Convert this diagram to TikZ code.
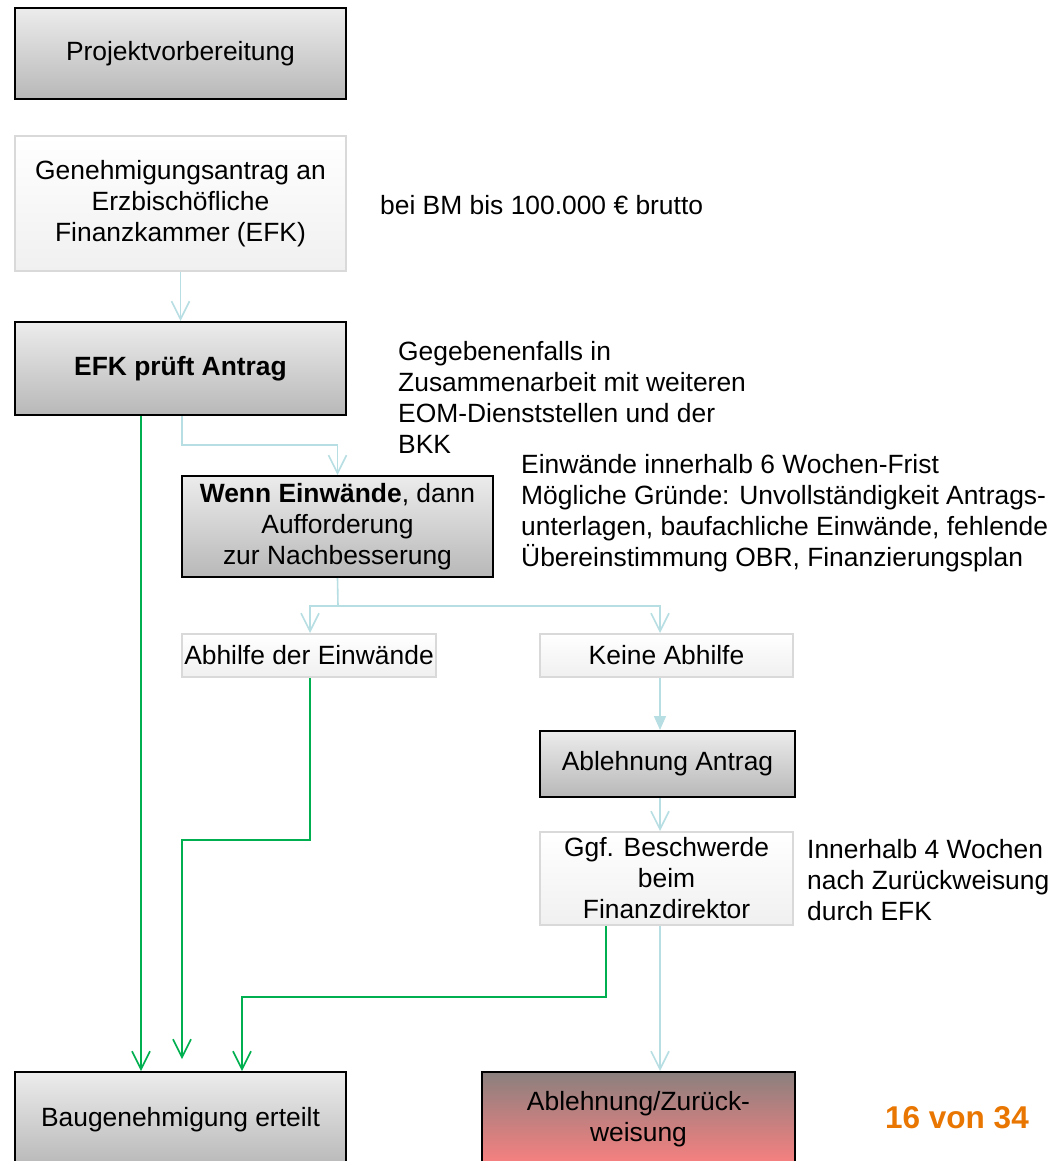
\documentclass[tikz,border=0pt]{standalone}
\usepackage{fontspec}
\setmainfont{Liberation Sans}
\usetikzlibrary{arrows.meta,calc}
\definecolor{lblue}{RGB}{183,222,226}
\definecolor{lgreen}{RGB}{0,176,80}
\definecolor{orangetxt}{RGB}{232,118,0}
\definecolor{darktop}{RGB}{236,236,236}
\definecolor{darkbot}{RGB}{184,184,184}
\definecolor{lightbot}{RGB}{240,240,240}
\definecolor{lightborder}{RGB}{217,217,217}
\definecolor{redtop}{RGB}{138,128,126}
\definecolor{redbot}{RGB}{252,128,128}
\begin{document}
\begin{tikzpicture}[x=1pt,y=-1pt,
  txt/.style={font=\fontsize{26.4}{31}\selectfont, align=center},
  darkbox/.style={txt, draw=black, line width=2pt, top color=darktop, bottom color=darkbot, inner sep=0pt},
  lightbox/.style={txt, draw=lightborder, line width=2pt, top color=white, bottom color=lightbot, inner sep=0pt},
  note/.style={font=\fontsize{26.4}{31}\selectfont, align=left, anchor=west, inner sep=0pt},
  bluearr/.style={draw=lblue, line width=1.6pt, -{Straight Barb[length=18pt,width=18pt,line width=1.6pt]}},
  bluetri/.style={draw=lblue, line width=1.6pt, -{Triangle[length=14pt,width=12pt]}},
  greenarr/.style={draw=lgreen, line width=1.6pt, -{Straight Barb[length=18pt,width=18pt,line width=1.6pt]}}
]
\useasboundingbox (0,0) rectangle (1063,1161);
\fill[white] (0,0) rectangle (1063,1161);

\node[darkbox, minimum width=331pt, minimum height=91pt] (proj) at (180.5,53.5) {Projektvorbereitung};
\node[lightbox, minimum width=331pt, minimum height=135pt] (gen) at (180.5,203.5) {Genehmigungsantrag an\\Erzbischöfliche\\Finanzkammer (EFK)};
\node[note] (bm) at (380,205) {bei BM bis 100.000 € brutto};
\node[darkbox, minimum width=331pt, minimum height=93pt] (efk) at (180.5,368.5) {\bfseries EFK prüft Antrag};
\node[note] (geg) at (398,397.5) {Gegebenenfalls in\\Zusammenarbeit mit weiteren\\EOM-Dienststellen und der\\BKK};
\node[darkbox, minimum width=311pt, minimum height=101pt] (wenn) at (337.5,526.5) {\textbf{Wenn Einwände}, dann\\Aufforderung\\zur Nachbesserung};
\node[note] (einw) at (521,513.5) {Einwände innerhalb 6 Wochen-Frist\\Mögliche Gründe: Unvollständigkeit Antrags-\\unterlagen, baufachliche Einwände, fehlende\\Übereinstimmung OBR, Finanzierungsplan};
\node[lightbox, minimum width=254pt, minimum height=43pt] (abh) at (309,655.5) {Abhilfe der Einwände};
\node[lightbox, minimum width=253pt, minimum height=43pt] (keine) at (666.5,655.5) {Keine Abhilfe};
\node[darkbox, minimum width=255pt, minimum height=66pt] (abl) at (667.5,764) {Ablehnung Antrag};
\node[lightbox, minimum width=253pt, minimum height=93pt] (ggf) at (666.5,878.5) {Ggf. Beschwerde\\beim\\Finanzdirektor};
\node[note] (inn) at (807,880.5) {Innerhalb 4 Wochen\\nach Zurückweisung\\durch EFK};
\node[darkbox, minimum width=331pt, minimum height=95pt] (bau) at (180.5,1119.5) {Baugenehmigung erteilt};
\node[txt, draw=black, line width=2pt, top color=redtop, bottom color=redbot, inner sep=0pt, minimum width=313pt, minimum height=95pt] (zur) at (638.5,1119.5) {Ablehnung/Zurück-\\weisung};
\node[font=\fontsize{31.5}{36}\selectfont\bfseries, text=orangetxt, inner sep=0pt] (page) at (957,1118) {16 von 34};

% light blue connectors
\draw[bluearr] (gen.south) -- (efk.north);
\draw[bluearr] (efk.south -| 182,0) -- (182,445) -| (wenn.north);
\draw[draw=lblue, line width=1.6pt] (wenn.south) -- (338,606);
\draw[bluearr] (338,606) -| (abh.north -| 310,0);
\draw[bluearr] (338,606) -| (keine.north -| 660,0);
\draw[bluetri] (keine.south -| 660,0) -- (abl.north -| 660,0);
\draw[bluearr] (abl.south -| 660,0) -- (ggf.north -| 660,0);
\draw[bluearr] (ggf.south -| 660,0) -- (zur.north -| 660,0);

% green connectors
\draw[greenarr] (efk.south -| 141,0) -- (bau.north -| 141,0);
\draw[greenarr, shorten >=12pt] (abh.south -| 310,0) -- (310,840) -| (bau.north -| 182,0);
\draw[greenarr] (ggf.south -| 606,0) -- (606,997) -| (bau.north -| 242,0);
\end{tikzpicture}
\end{document}
